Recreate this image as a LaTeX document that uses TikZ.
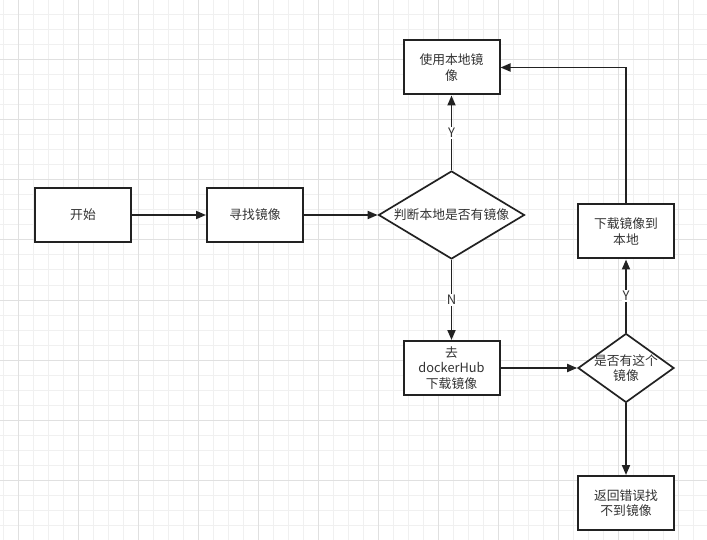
\documentclass[tikz,border=0pt]{standalone}
\usepackage{fontspec}
\setmainfont{Noto Sans CJK SC}
\usetikzlibrary{shapes.geometric,arrows.meta}
\definecolor{gridminor}{HTML}{F0F0F0}
\definecolor{gridmajor}{HTML}{E0E0E0}
\definecolor{ink}{HTML}{222222}
\definecolor{txt}{HTML}{333333}
\tikzset{
  box/.style={draw=ink, line width=2pt, fill=white, minimum width=96pt, minimum height=54pt, inner sep=0pt, align=center, text=txt, font=\fontsize{12.8}{15.5}\selectfont},
  dia/.style={draw=ink, line width=1.7pt, fill=white, diamond, inner sep=0pt},
  dtext/.style={text=txt, align=center, font=\fontsize{12.8}{15.5}\selectfont},
  conn/.style={draw=ink, line width=1.8pt, -{Triangle[length=10pt,width=8pt]}},
  lbl/.style={fill=white, inner sep=1pt, text=txt, font=\fontsize{13}{14}\selectfont},
}
\begin{document}
\begin{tikzpicture}[x=1pt,y=-1pt]
\useasboundingbox (0,0) rectangle (707,540);
\fill[white] (0,0) rectangle (707,540);
\foreach \x in {3,18,...,705} \draw[gridminor, line width=1pt] (\x,0) -- (\x,540);
\foreach \y in {0,15,...,540} \draw[gridminor, line width=1pt] (0,\y) -- (707,\y);
\foreach \x in {18,78,...,705} \draw[gridmajor, line width=1pt] (\x,0) -- (\x,540);
\foreach \y in {0,60,...,540} \draw[gridmajor, line width=1pt] (0,\y) -- (707,\y);

\node[box] (start) at (83,215) {开始};
\node[box] (find) at (255,215) {寻找镜像};
\node[dia, minimum width=146pt, minimum height=88pt] (d1) at (451.5,215) {};
\node[dtext] (d1t) at (d1.center) {判断本地是否有镜像};
\node[box] (use) at (451.5,67.5) {使用本地镜\\像};
\node[box] (hub) at (451.5,368) {去\\dockerHub\\下载镜像};
\node[dia, minimum width=96pt, minimum height=69pt] (d2) at (626,368) {};
\node[dtext] (d2t) at (d2.center) {是否有这个\\镜像};
\node[box] (local) at (626,231.5) {下载镜像到\\本地};
\node[box] (err) at (626,503) {返回错误找\\不到镜像};
\coordinate (corner) at (local.north |- use.east);

\draw[conn] (start) -- (find);
\draw[conn] (find) -- (d1);
\draw[conn] (d1) -- node[lbl] (ly1) {Y} (use);
\draw[conn] (d1) -- node[lbl] (ln) {N} (hub);
\draw[conn] (hub) -- (d2);
\draw[conn] (d2) -- node[lbl] (ly2) {Y} (local);
\draw[conn] (local.north) -- (corner) -- (use.east);
\draw[conn] (d2) -- (err);
\end{tikzpicture}
\end{document}
